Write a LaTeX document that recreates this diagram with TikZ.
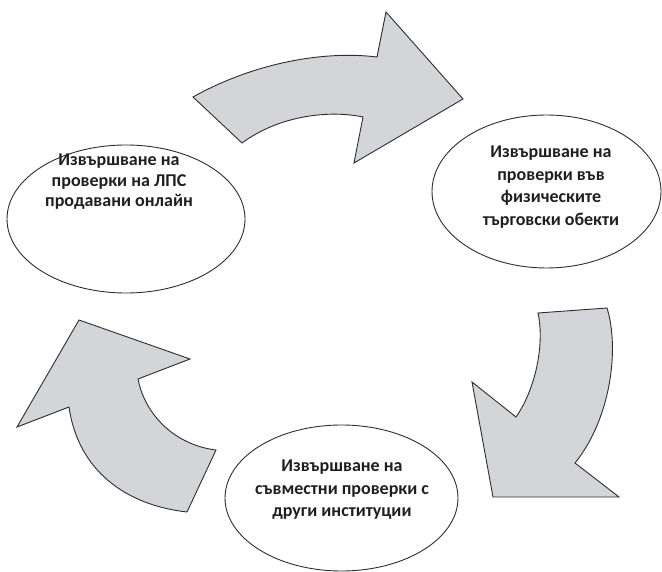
\documentclass[tikz,border=0pt]{standalone}
\usepackage{fontspec}
\setmainfont{Carlito}
\usetikzlibrary{shapes.geometric}

\definecolor{arrowfill}{RGB}{212,213,216}
\definecolor{edgegray}{RGB}{45,45,45}

\tikzset{
  cycleoval/.style={draw=edgegray, line width=0.9pt, ellipse, inner sep=0pt},
  cycletext/.style={align=center, text=black!88, font=\bfseries\fontsize{18}{22.5}\selectfont},
  bentarrow/.style={draw=edgegray, fill=arrowfill, line width=0.9pt, line join=miter}
}

\begin{document}
\begin{tikzpicture}[x=1pt, y=-1pt]
    \useasboundingbox (0,0) rectangle (662,572);

    % the three stages
    \node[cycleoval, minimum width=238pt, minimum height=148pt] (online) at (126,219) {};
    \node[cycleoval, minimum width=229pt, minimum height=153pt] (shops) at (546.5,191.5) {};
    \node[cycleoval, minimum width=233pt, minimum height=146pt] (joint) at (341.5,498) {};

    \node[cycletext, font=\bfseries\fontsize{18}{20.5}\selectfont] (onlinetxt) at (119,182) {Извършване на\\проверки на ЛПС\\продавани онлайн};
    \node[cycletext] (shopstxt) at (551,187) {Извършване на\\проверки във\\физическите\\търговски обекти};
    \node[cycletext] (jointtxt) at (342,490) {Извършване на\\съвместни проверки с\\други институции};

    % top arrow
    \draw[bentarrow] (193,97) .. controls (250,65) and (320,50) .. (377,57)
        -- (386,12) -- (463,99) -- (354,163) -- (363,117)
        .. controls (330,110) and (280,115) .. (242,143) -- cycle;

    % right arrow
    \draw[bentarrow] (538,313) -- (607,308)
        .. controls (620,350) and (610,420) .. (575,463)
        -- (619,497) -- (493,497) -- (472,382) -- (516,417)
        .. controls (535,390) and (545,345) .. cycle;

    % left arrow
    \draw[bentarrow] (187,512) -- (216,450)
        .. controls (175,445) and (145,415) .. (138,379)
        -- (190,359) -- (79,320) -- (17,427) -- (69,407)
        .. controls (78,470) and (125,505) .. cycle;
\end{tikzpicture}
\end{document}
